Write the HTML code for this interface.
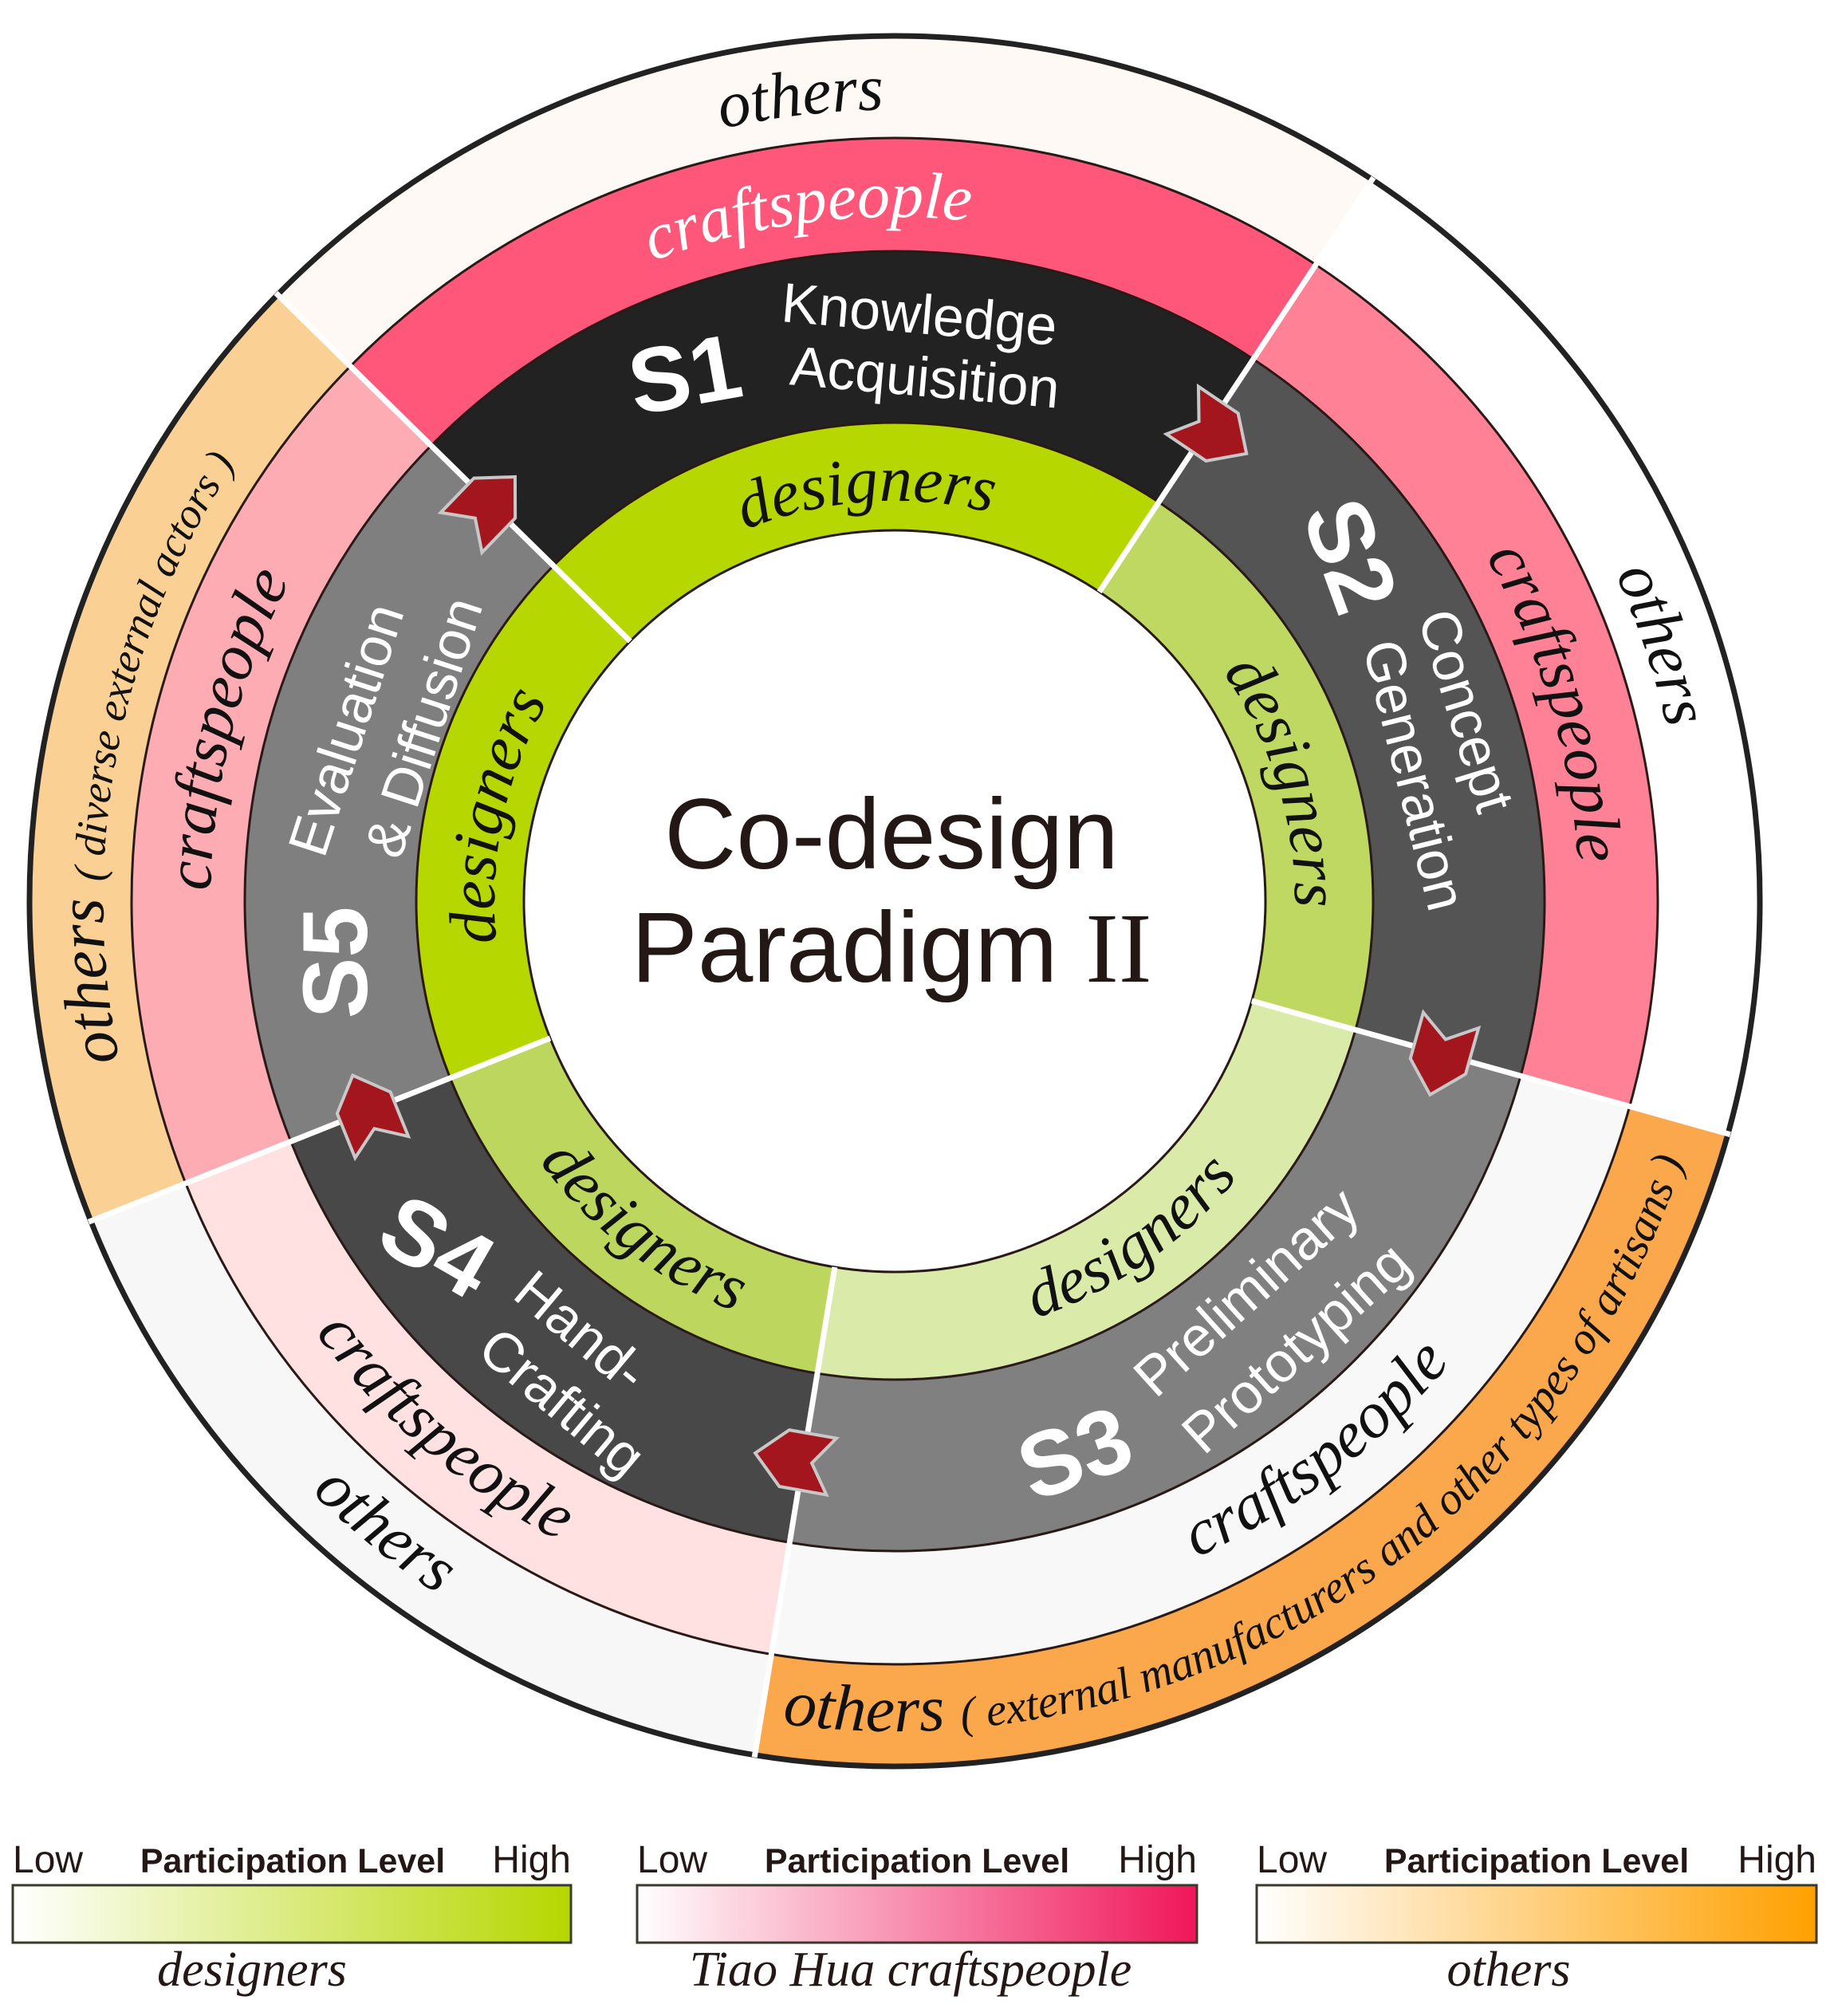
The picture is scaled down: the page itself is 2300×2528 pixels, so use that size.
<!DOCTYPE html>
<html><head><meta charset="utf-8"><style>
html,body{margin:0;padding:0;background:#fff;}
#w{position:relative;width:2300px;height:2528px;overflow:hidden;background:#fff;}
.ring{position:absolute;border-radius:50%;}
svg{position:absolute;left:0;top:0;}
</style></head><body><div id="w">
<div class="ring" style="left:37px;top:45px;width:2170px;height:2170px;background:conic-gradient(#FEF9F5 0deg 33.5deg,#FFFFFF 33.5deg 105.6deg,#FBA84C 105.6deg 189.3deg,#F7F7F7 189.3deg 248.3deg,#FAD094 248.3deg 314.5deg,#FEF9F5 314.5deg);"></div>
<div class="ring" style="left:165px;top:173px;width:1914px;height:1914px;background:conic-gradient(#FF5779 0deg 33.5deg,#FF8196 33.5deg 105.6deg,#F8F8F8 105.6deg 189.3deg,#FFE1E1 189.3deg 248.3deg,#FEACB4 248.3deg 314.5deg,#FF5779 314.5deg);"></div>
<div class="ring" style="left:307px;top:315px;width:1630px;height:1630px;background:conic-gradient(#222222 0deg 33.5deg,#545454 33.5deg 105.6deg,#808080 105.6deg 189.3deg,#484848 189.3deg 248.3deg,#7F7F7F 248.3deg 314.5deg,#222222 314.5deg);"></div>
<div class="ring" style="left:522px;top:530px;width:1200px;height:1200px;background:conic-gradient(#B6D700 0deg 33.5deg,#BED862 33.5deg 105.6deg,#DAEAA8 105.6deg 189.3deg,#BDD65E 189.3deg 248.3deg,#B6D700 248.3deg 314.5deg,#B6D700 314.5deg);"></div>
<div class="ring" style="left:657px;top:665px;width:930px;height:930px;background:#fff;"></div>

<svg width="2300" height="2528" viewBox="0 0 2300 2528">
<defs>
<path id="oC" d="M 129 1130 A 993 993 0 0 1 2115 1130 A 993 993 0 0 1 129 1130"/>
<path id="oA" d="M 81 1130 A 1041 1041 0 0 0 2163 1130 A 1041 1041 0 0 0 81 1130"/>
<path id="cC" d="M 264 1130 A 858 858 0 0 1 1980 1130 A 858 858 0 0 1 264 1130"/>
<path id="cA" d="M 216 1130 A 906 906 0 0 0 2028 1130 A 906 906 0 0 0 216 1130"/>
<path id="dC" d="M 620 1130 A 502 502 0 0 1 1624 1130 A 502 502 0 0 1 620 1130"/>
<path id="dA" d="M 570 1130 A 552 552 0 0 0 1674 1130 A 552 552 0 0 0 570 1130"/>
<linearGradient id="g1"><stop offset="0" stop-color="#fff"/><stop offset="1" stop-color="#B6D700"/></linearGradient>
<linearGradient id="g2"><stop offset="0" stop-color="#fff"/><stop offset="1" stop-color="#F0165A"/></linearGradient>
<linearGradient id="g3"><stop offset="0" stop-color="#fff"/><stop offset="1" stop-color="#FFA000"/></linearGradient>
</defs>
<g fill="none" stroke="#2a1a17" stroke-width="3">
<circle cx="1122" cy="1130" r="465"/>
<circle cx="1122" cy="1130" r="600"/>
<circle cx="1122" cy="1130" r="815"/>
<circle cx="1122" cy="1130" r="957"/>
<circle cx="1122" cy="1130" r="1085" stroke="#222" stroke-width="7"/>
</g>
<g stroke="#fff" stroke-width="7">
<line x1="1587" y1="1130" x2="2210" y2="1130" transform="rotate(-135.5 1122 1130)"/>
<line x1="1587" y1="1130" x2="2210" y2="1130" transform="rotate(-56.5 1122 1130)"/>
<line x1="1587" y1="1130" x2="2210" y2="1130" transform="rotate(15.6 1122 1130)"/>
<line x1="1587" y1="1130" x2="2210" y2="1130" transform="rotate(99.3 1122 1130)"/>
<line x1="1587" y1="1130" x2="2210" y2="1130" transform="rotate(158.3 1122 1130)"/>
</g>
<g fill="#A3161E" stroke="#c8c8c8" stroke-width="4">
<polygon points="-45,-36 15,-36 52,0 15,36 -45,36 -20,0" transform="rotate(-56 1122 1130) translate(1834 1130) rotate(90)"/>
<polygon points="-45,-36 15,-36 52,0 15,36 -45,36 -20,0" transform="rotate(15.7 1122 1130) translate(1834 1130) rotate(90)"/>
<polygon points="-45,-36 15,-36 52,0 15,36 -45,36 -20,0" transform="rotate(100 1122 1130) translate(1834 1130) rotate(90)"/>
<polygon points="-45,-36 15,-36 52,0 15,36 -45,36 -20,0" transform="rotate(158 1122 1130) translate(1834 1130) rotate(90)"/>
<polygon points="-45,-36 15,-36 52,0 15,36 -45,36 -20,0" transform="rotate(224 1122 1130) translate(1834 1130) rotate(90)"/>
</g>

<g font-family="Liberation Serif, serif" font-style="italic" font-size="82" text-anchor="middle" fill="#111">
<text transform="rotate(-6.7 1122 1130)"><textPath href="#oC" startOffset="25%">others</textPath></text>
<text transform="rotate(-7.2 1122 1130)" fill="#fff"><textPath href="#cC" startOffset="25%">craftspeople</textPath></text>
<text transform="rotate(-4 1122 1130)"><textPath href="#dC" startOffset="25%">designers</textPath></text>
<text transform="rotate(73 1122 1130)"><textPath href="#dC" startOffset="25%">designers</textPath></text>
<text transform="rotate(73.3 1122 1130)"><textPath href="#cC" startOffset="25%">craftspeople</textPath></text>
<text transform="rotate(71.5 1122 1130)"><textPath href="#oC" startOffset="25%">others</textPath></text>
<text transform="rotate(282 1122 1130)"><textPath href="#dC" startOffset="25%">designers</textPath></text>
<text transform="rotate(284.4 1122 1130)"><textPath href="#cC" startOffset="25%">craftspeople</textPath></text>
<text transform="rotate(281 1122 1130)"><textPath href="#oC" startOffset="25%">others <tspan font-size="54">( diverse external actors )</tspan></textPath></text>
<text transform="rotate(-35 1122 1130)"><textPath href="#dA" startOffset="25%">designers</textPath></text>
<text transform="rotate(-37.5 1122 1130)"><textPath href="#cA" startOffset="25%">craftspeople</textPath></text>
<text transform="rotate(37.5 1122 1130)"><textPath href="#dA" startOffset="25%">designers</textPath></text>
<text transform="rotate(40.5 1122 1130)"><textPath href="#cA" startOffset="25%">craftspeople</textPath></text>
<text transform="rotate(39 1122 1130)"><textPath href="#oA" startOffset="25%">others</textPath></text>
<text transform="rotate(-32 1122 1130)"><textPath href="#oA" startOffset="25%">others <tspan font-size="57">( external manufacturers and other types of artisans )</tspan></textPath></text>
</g>

<g font-family="Liberation Sans, sans-serif" fill="#fff" text-anchor="middle" dominant-baseline="central">
<g font-weight="bold" font-size="115">
<text transform="translate(859 470) rotate(-10)">S1</text>
<text transform="translate(1693 697) rotate(70)">S2</text>
<text transform="translate(1348 1823) rotate(-20)">S3</text>
<text transform="translate(548 1563) rotate(30)">S4</text>
<text transform="translate(421 1207) rotate(-90)">S5</text>
</g>
<g font-size="70">
<text transform="translate(1153 394) rotate(5)">Knowledge</text>
<text transform="translate(1160 473) rotate(5)">Acquisition</text>
<text transform="translate(1839 891) rotate(73)">Concept</text>
<text transform="translate(1774 972) rotate(76)">Generation</text>
<text transform="translate(1563 1620) rotate(-42)">Preliminary</text>
<text transform="translate(1625 1690) rotate(-42)">Prototyping</text>
<text transform="translate(729 1669) rotate(40)">Hand-</text>
<text transform="translate(705 1758) rotate(40)">Crafting</text>
<text transform="translate(434 915) rotate(-72)">Evaluation</text>
<text transform="translate(531 912) rotate(-72)">&amp; Diffusion</text>
</g>
</g>

<g font-family="Liberation Sans, sans-serif" font-size="125" fill="#231815" text-anchor="middle">
<text x="1118" y="1089">Co-design</text>
<text x="1118" y="1231">Paradigm <tspan font-family="Liberation Serif, serif">II</tspan></text>
</g>

<g stroke="#3a3a2a" stroke-width="3">
<rect x="16" y="2364" width="700" height="72" fill="url(#g1)"/>
<rect x="799" y="2364" width="702" height="72" fill="url(#g2)"/>
<rect x="1576" y="2364" width="702" height="72" fill="url(#g3)"/>
</g>
<g font-family="Liberation Sans, sans-serif" fill="#231815" font-size="48">
<text x="16" y="2348">Low</text>
<text x="716" y="2348" text-anchor="end">High</text>
<text x="367" y="2348" text-anchor="middle" font-weight="bold" font-size="43">Participation Level</text>
<text x="799" y="2348">Low</text>
<text x="1501" y="2348" text-anchor="end">High</text>
<text x="1150" y="2348" text-anchor="middle" font-weight="bold" font-size="43">Participation Level</text>
<text x="1576" y="2348">Low</text>
<text x="2278" y="2348" text-anchor="end">High</text>
<text x="1927" y="2348" text-anchor="middle" font-weight="bold" font-size="43">Participation Level</text>
</g>
<g font-family="Liberation Serif, serif" font-style="italic" font-size="62" fill="#231815" text-anchor="middle">
<text x="316" y="2490">designers</text>
<text x="1142" y="2490">Tiao Hua craftspeople</text>
<text x="1892" y="2490">others</text>
</g>
</svg>
</div></body></html>
